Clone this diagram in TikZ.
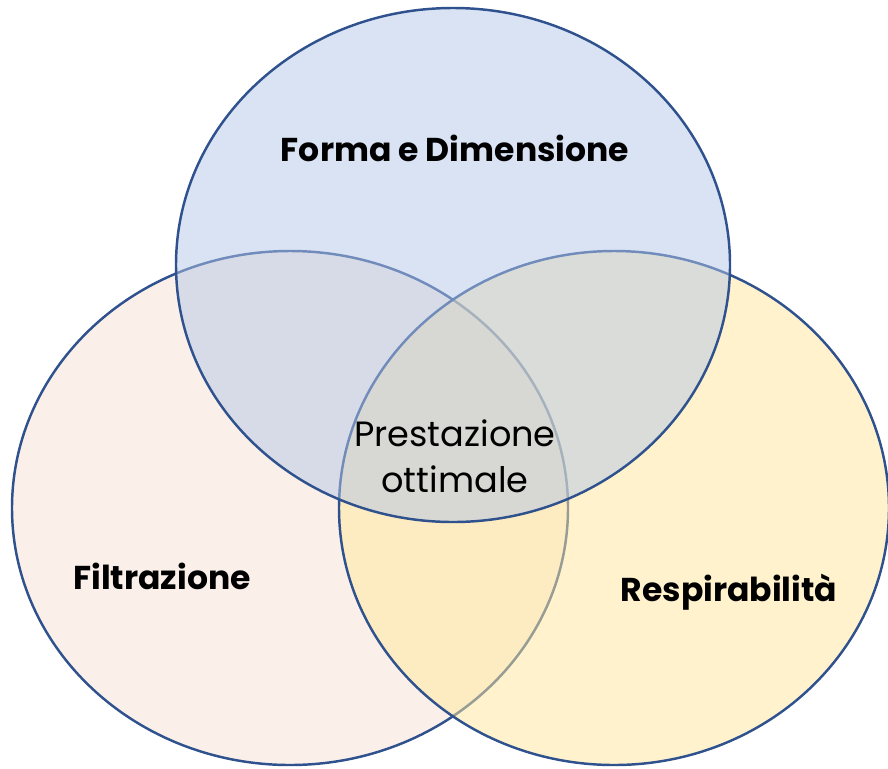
\documentclass[tikz,border=0pt]{standalone}
\usepackage{fontspec}
\setmainfont{Poppins}
\usetikzlibrary{shapes,positioning}

\definecolor{edgeblue}{HTML}{2F528F}
\definecolor{topfill}{HTML}{B4C7E7}
\definecolor{leftfill}{HTML}{F7E1D3}
\definecolor{rightfill}{HTML}{FFE699}

\begin{document}
\begin{tikzpicture}[x=0.02cm, y=-0.02cm]
% Define styles
\tikzstyle{setshape} = [ellipse, draw=edgeblue, line width=1.4pt, fill opacity=0.5, draw opacity=1, inner sep=0pt, minimum height=514*0.02cm]
\tikzstyle{label} = [font=\fontsize{18.8}{22}\selectfont\bfseries, text=black]
\tikzstyle{center} = [font=\fontsize{20}{26}\selectfont, align=center, text=black]

\useasboundingbox (0,0) rectangle (888,768);

% Create sets
\node (filt) [setshape, fill=leftfill, minimum width=556*0.02cm] at (290,508) {};
\node (resp) [setshape, fill=rightfill, minimum width=550*0.02cm] at (614,508) {};
\node (forma) [setshape, fill=topfill, minimum width=554*0.02cm] at (453,265) {};

% Labels
\node (formalabel) [label] at (455,148) {Forma e Dimensione};
\node (filtlabel) [label] at (162,576) {Filtrazione};
\node (resplabel) [label] at (729,592) {Respirabilità};
\node (best) [center] at (455,456) {Prestazione\\ottimale};
\end{tikzpicture}
\end{document}
